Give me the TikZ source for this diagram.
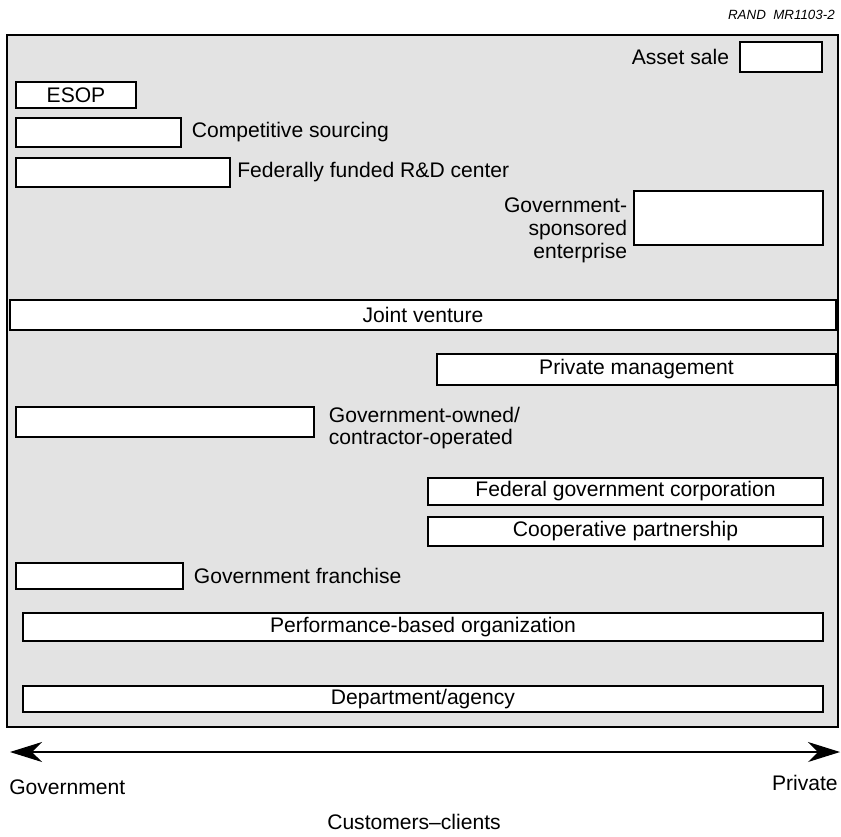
\documentclass[tikz,border=0pt]{standalone}
\usepackage{fontspec}
\setmainfont{Liberation Sans}
\usetikzlibrary{arrows.meta,positioning}

\begin{document}
\begin{tikzpicture}[x=0.25mm,y=-0.25mm, node distance=2mm,
  bar/.style={draw,line width=0.9pt,fill=white,inner sep=0pt,font=\fontsize{15}{16.3}\selectfont},
  lbl/.style={inner sep=0pt,align=left,font=\fontsize{15}{16.3}\selectfont},
  >={Stealth[length=8mm,width=5mm,inset=2.5mm]}]
\useasboundingbox (0,0) rectangle (841,836);
% stippled field
\draw[line width=1pt,fill=black!11] (7,35) rectangle (838,727);
\node[anchor=east,inner sep=0pt,font=\fontsize{9.5}{11}\itshape] (tag) at (835,15) {RAND\ \ MR1103-2};
% mechanisms
\node[bar,minimum width=20.5mm,minimum height=7.5mm] (asset) at (781,57) {};
\node[lbl,left=2.5mm of asset] (assetl) {Asset sale};
\node[bar,minimum width=30mm,minimum height=6.5mm] (esop) at (76,95) {ESOP};
\node[bar,minimum width=41.25mm,minimum height=7.25mm] (csrc) at (98.5,132.5) {};
\node[lbl,right=2.5mm of csrc] (csrcl) {Competitive sourcing};
\node[bar,minimum width=53.5mm,minimum height=7.25mm] (ffrdc) at (123,172.5) {};
\node[lbl,right=1.6mm of ffrdc] (ffrdcl) {Federally funded R\&D center};
\node[bar,minimum width=47.25mm,minimum height=13.5mm] (gse) at (728.5,218) {};
\node[lbl,align=right,anchor=north east] (gsel) at ([xshift=-1.5mm,yshift=-1.9mm]gse.north west) {Government-\\sponsored\\enterprise};
\node[bar,minimum width=206.5mm,minimum height=7.5mm] (jv) at (423,315) {Joint venture};
\node[bar,minimum width=99.75mm,minimum height=7.75mm] (pm) at (636.5,369.5) {Private management};
\node[bar,minimum width=74.5mm,minimum height=7.5mm] (goco) at (165,422) {};
\node[lbl,right=3.5mm of goco,yshift=-1.5mm] (gocol) {Government-owned/\\contractor-operated};
\node[bar,minimum width=98.75mm,minimum height=6.75mm] (fgc) at (625.5,491.5) {Federal government corporation};
\node[bar,minimum width=98.75mm,minimum height=7.25mm] (coop) at (625.5,531.5) {Cooperative partnership};
\node[bar,minimum width=41.75mm,minimum height=6.5mm] (gfr) at (99.5,576) {};
\node[lbl,right=2.5mm of gfr] (gfrl) {Government franchise};
\node[bar,minimum width=200mm,minimum height=7mm] (pbo) at (423,627) {Performance-based organization};
\node[bar,minimum width=200mm,minimum height=6.5mm] (dept) at (423,699) {Department/agency};
% axis
\coordinate (govend) at (10,752);
\coordinate (privend) at (840,752);
\draw[<->,line width=0.8pt] (govend) -- (privend);
\node[lbl,anchor=west] (gov) at (9,787) {Government};
\node[lbl,anchor=east] (priv) at (838,783) {Private};
\node[lbl] (cust) at (414,822) {Customers--clients};
\end{tikzpicture}
\end{document}
